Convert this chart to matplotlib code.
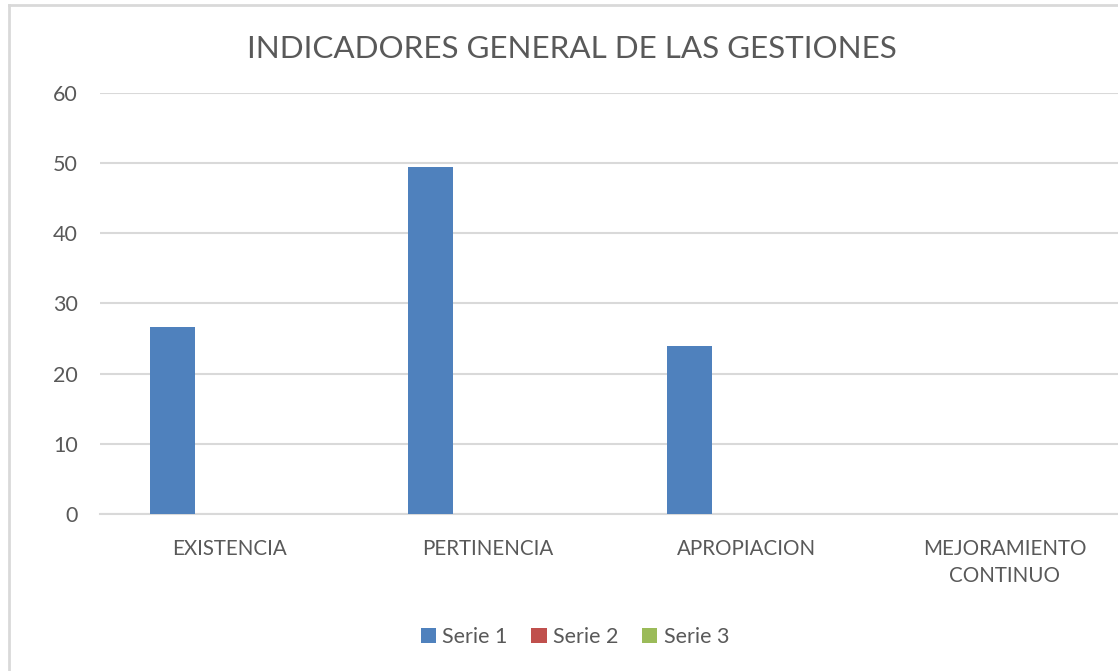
import numpy as np
from matplotlib import pyplot as plt
from matplotlib.lines import Line2D

categories = ["EXISTENCIA", "PERTINENCIA", "APROPIACION", "MEJORAMIENTO\nCONTINUO"]
series_names = ["Serie 1", "Serie 2", "Serie 3"]
serie1 = [26.6, 49.5, 24.0, 0]
serie2 = [0, 0, 0, 0]
serie3 = [0, 0, 0, 0]
colors = ["#4F81BD", "#C0504D", "#9BBB59"]

plt.rcParams["font.family"] = ["Lato", "DejaVu Sans"]
text_color = "#595959"

W, H = 1118, 671
fig = plt.figure(figsize=(W / 100, H / 100), dpi=100)
ax = fig.add_axes([100 / W, 157 / H, 1034 / W, 421 / H])

x = np.arange(len(categories))
width = 0.174
offsets = [-0.22, 0.0, 0.22]
for vals, name, col, off in zip([serie1, serie2, serie3], series_names, colors, offsets):
    ax.bar(x + off, vals, width, color=col, label=name, zorder=3)

ax.set_xlim(-0.5, len(categories) - 0.5)
ax.set_ylim(0, 60)
ax.set_yticks(range(0, 61, 10))
ax.set_xticks(x)
ax.set_xticklabels(categories, fontsize=14.8, color=text_color, linespacing=1.45)
ax.tick_params(axis="y", labelsize=15.5, colors=text_color, length=0, pad=16)
ax.tick_params(axis="x", length=0, pad=18)
ax.grid(axis="y", color="#d9d9d9", linewidth=1.5, zorder=0)
for s in ["top", "right", "left"]:
    ax.spines[s].set_visible(False)
ax.spines["bottom"].set_color("#d9d9d9")
ax.spines["bottom"].set_linewidth(1.5)

fig.text(572 / W, 1 - 49 / H, "INDICADORES GENERAL DE LAS GESTIONES",
         ha="center", va="center", fontsize=22.6, color=text_color)

fig.legend(loc="center", bbox_to_anchor=(575 / W, 1 - 637 / H), ncol=3,
           frameon=False, fontsize=15.5, labelcolor=text_color,
           handlelength=0.7, handleheight=0.7, handletextpad=0.3,
           columnspacing=1.1)

# chart border (only left and top visible in the crop)
fig.add_artist(Line2D([9 / W, 9 / W], [0, 1 - 5 / H], transform=fig.transFigure,
                      color="#d9d9d9", linewidth=2))
fig.add_artist(Line2D([9 / W, 1], [1 - 5 / H, 1 - 5 / H], transform=fig.transFigure,
                      color="#d9d9d9", linewidth=2))

plt.savefig("out.png", dpi=100)
